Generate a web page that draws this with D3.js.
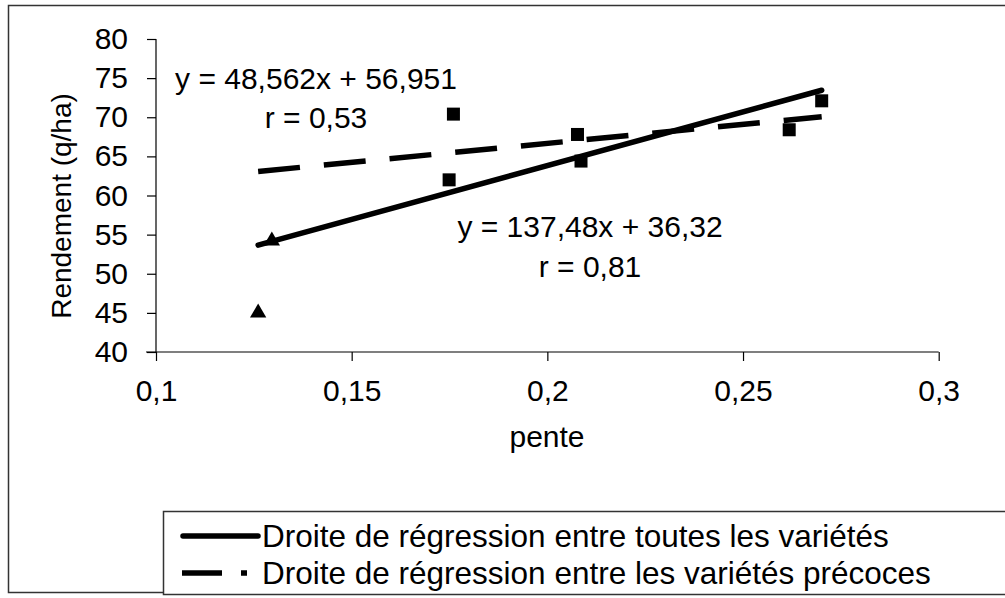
<!DOCTYPE html>
<html>
<head>
<meta charset="utf-8">
<script src="https://cdn.jsdelivr.net/npm/d3@7"></script>
<style>
  html, body { margin: 0; padding: 0; background: #fff; }
  svg { display: block; }
  text { font-family: "Liberation Sans", Arial, sans-serif; fill: #000; }
</style>
</head>
<body>
<svg id="chart" width="1005" height="598"></svg>
<script>
// Observed points: slope (pente) vs yield (Rendement, q/ha)
const squarePente = [0.1749, 0.1760, 0.2077, 0.2086, 0.2618, 0.2701];
const squareRendement = [62.0, 70.4, 67.8, 64.4, 68.4, 72.1];
const trianglePente = [0.1261, 0.1296];
const triangleRendement = [45.0, 54.2];

// Regression lines: slope, intercept, r
const regNames = ["Droite de régression entre toutes les variétés",
                  "Droite de régression entre les variétés précoces"];
const regSlope = [137.48, 48.562];
const regIntercept = [36.32, 56.951];
const regR = [0.81, 0.53];

const xTicks = [0.1, 0.15, 0.2, 0.25, 0.3];
const yTicks = [40, 45, 50, 55, 60, 65, 70, 75, 80];

const svg = d3.select("#chart");
const fmt = v => String(v).replace(".", ",");

const x = d3.scaleLinear().domain([0.1, 0.3]).range([156, 938.7]);
const y = d3.scaleLinear().domain([40, 80]).range([352, 39]);

// outer chart frame
svg.append("rect").attr("x", 8.5).attr("y", 5.5).attr("width", 1010).attr("height", 587)
  .attr("fill", "none").attr("stroke", "#333").attr("stroke-width", 1.5);

// axes
const xAxis = d3.axisBottom(x).tickValues(xTicks).tickSize(9).tickFormat(fmt);
const yAxis = d3.axisLeft(y).tickValues(yTicks).tickSize(9).tickFormat(d => d);

const gx = svg.append("g").attr("transform", `translate(0,${y(40)})`).call(xAxis);
const gy = svg.append("g").attr("transform", `translate(${x(0.1)},0)`).call(yAxis);
[gx, gy].forEach(g => {
  g.select(".domain").attr("stroke", "#000").attr("stroke-width", 1.2);
  g.selectAll(".tick line").attr("stroke", "#000").attr("stroke-width", 1.2);
  g.selectAll(".tick text").style("font-size", "30px")
    .style("font-family", "'Liberation Sans', Arial, sans-serif").attr("fill", "#000");
});
gx.select(".domain").attr("d", `M${x(0.1) - 10},0H${x(0.3)}`);
gy.select(".domain").attr("d", `M0,${y(80)}V${y(40)}`);
gx.selectAll(".tick text").attr("y", 28).attr("dy", "0.71em");
gy.selectAll(".tick text").attr("x", -28);

// axis titles
svg.append("text").attr("x", 547).attr("y", 447).attr("text-anchor", "middle")
  .style("font-size", "30px").text("pente");
svg.append("text").attr("transform", "translate(71,206) rotate(-90)")
  .attr("text-anchor", "middle").style("font-size", "28px").text("Rendement (q/ha)");

// regression lines over the observed slope range
const allPente = squarePente.concat(trianglePente);
const xMin = d3.min(allPente), xMax = d3.max(allPente);
const line = d3.line().x(d => x(d[0])).y(d => y(d[1]));
const regStyles = [
  { dash: null, cap: "round" },
  { dash: "42,24", cap: "butt" }
];
regSlope.forEach((b, i) => {
  const pts = [xMin, xMax].map(p => [p, b * p + regIntercept[i]]);
  svg.append("path").attr("d", line(pts)).attr("fill", "none")
    .attr("stroke", "#000").attr("stroke-width", 5.5)
    .attr("stroke-linecap", regStyles[i].cap)
    .attr("stroke-dasharray", regStyles[i].dash);
});

// markers
svg.append("g").selectAll("rect").data(d3.zip(squarePente, squareRendement)).join("rect")
  .attr("x", d => x(d[0]) - 6.5).attr("y", d => y(d[1]) - 6.5)
  .attr("width", 13).attr("height", 13).attr("fill", "#000");
const tri = d3.symbol().type(d3.symbolTriangle).size(115);
svg.append("g").selectAll("path").data(d3.zip(trianglePente, triangleRendement)).join("path")
  .attr("transform", d => `translate(${x(d[0])},${y(d[1])})`)
  .attr("d", tri).attr("fill", "#000");

// equation labels
const eq = (i) => `y = ${fmt(regSlope[i])}x + ${fmt(regIntercept[i])}`;
svg.append("text").attr("x", 316).attr("y", 89).attr("text-anchor", "middle")
  .style("font-size", "30px").text(eq(1));
svg.append("text").attr("x", 316).attr("y", 128).attr("text-anchor", "middle")
  .style("font-size", "30px").text(`r = ${fmt(regR[1])}`);
svg.append("text").attr("x", 590).attr("y", 237).attr("text-anchor", "middle")
  .style("font-size", "30px").text(eq(0));
svg.append("text").attr("x", 590).attr("y", 277).attr("text-anchor", "middle")
  .style("font-size", "30px").text(`r = ${fmt(regR[0])}`);

// legend
svg.append("rect").attr("x", 163.5).attr("y", 511.5).attr("width", 850).attr("height", 83)
  .attr("fill", "#fff").attr("stroke", "#333").attr("stroke-width", 1.5);
const legY = [536, 573];
regNames.forEach((name, i) => {
  svg.append("line").attr("x1", i === 0 ? 183 : 182).attr("x2", i === 0 ? 258 : 247)
    .attr("y1", legY[i]).attr("y2", legY[i])
    .attr("stroke", "#000").attr("stroke-width", 5.5)
    .attr("stroke-linecap", regStyles[i].cap)
    .attr("stroke-dasharray", i === 0 ? null : "40,19");
  svg.append("text").attr("x", 262).attr("y", legY[i]).attr("dy", "0.36em")
    .style("font-size", "31.5px").text(name);
});
</script>
</body>
</html>
